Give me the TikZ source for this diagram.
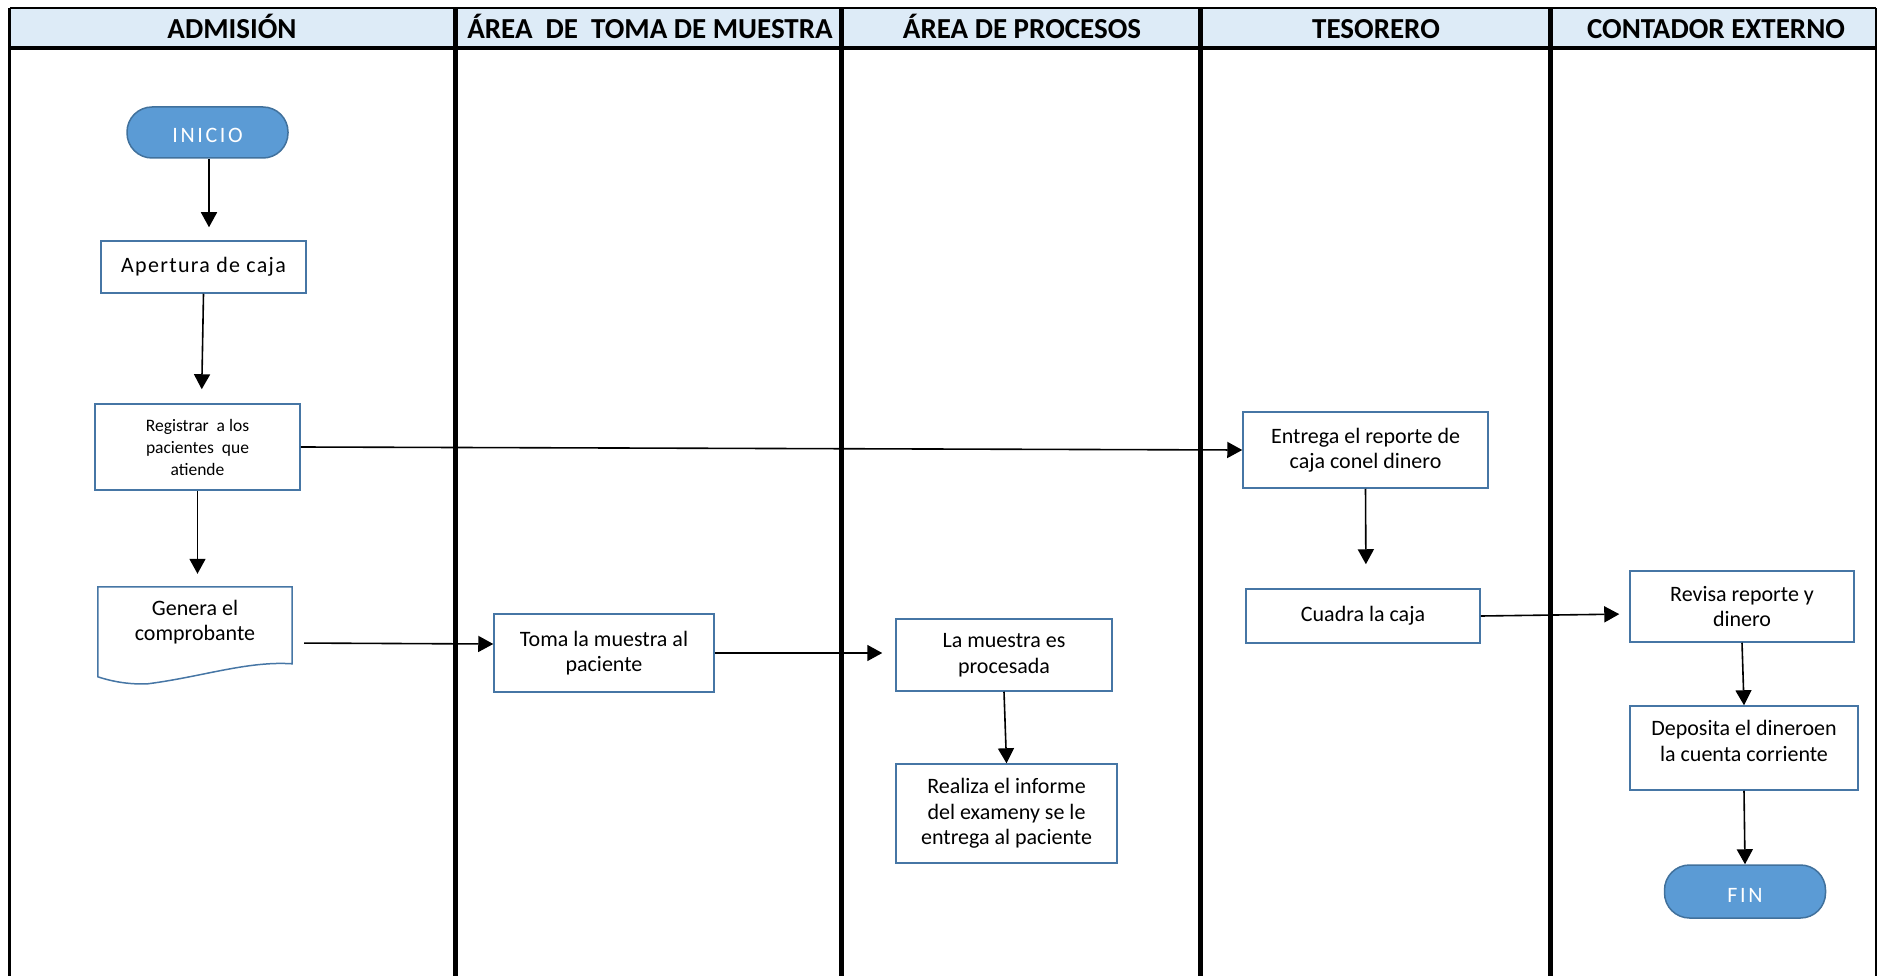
\documentclass[tikz,border=0pt]{standalone}
\usepackage{fontspec}
\setmainfont{Carlito}
\usetikzlibrary{arrows.meta,calc}
\definecolor{headfill}{RGB}{221,235,247}
\definecolor{boxline}{RGB}{70,118,165}
\definecolor{pillfill}{RGB}{91,155,213}
\definecolor{pillline}{RGB}{65,113,156}
\begin{document}
\begin{tikzpicture}[x=1pt,y=-1pt,
  lanehead/.style={font=\fontsize{29}{32}\selectfont\bfseries, anchor=base},
  procbox/.style={draw=boxline, line width=1.5pt, fill=white, align=center,
    font=\fontsize{22}{25.5}\selectfont, inner sep=2pt},
  smallbox/.style={procbox, font=\fontsize{17.5}{22}\selectfont},
  pill/.style={draw=pillline, line width=1.5pt, fill=pillfill, rounded corners=25pt,
    text=white, font=\fontsize{22}{24}\selectfont\addfontfeature{LetterSpace=12},
    text height=20pt, text depth=0pt},
  flow/.style={draw=black, line width=1.6pt, -{Triangle[width=16pt,length=15pt]}}]
\useasboundingbox (0,0) rectangle (1881,976);

% swimlane header band and lane borders
\fill[headfill] (9.6,8) rectangle (1876,48);
\draw[line width=2.5pt] (9.6,8) -- (1876,8);
\draw[line width=3.5pt] (9.6,48) -- (1876,48);
\draw[line width=2.5pt] (9.6,8) -- (9.6,976);
\draw[line width=2.5pt] (1876,8) -- (1876,976);
\foreach \lx in {455,841,1200,1550}
  \draw[line width=5pt] (\lx,8) -- (\lx,976);

\node[lanehead] (h1) at (232,38.5) {ADMISIÓN};
\node[lanehead] (h2) at (650,38.5) {ÁREA\ \ DE\ \ TOMA DE MUESTRA};
\node[lanehead] (h3) at (1022,38.5) {ÁREA DE PROCESOS};
\node[lanehead] (h4) at (1376,38.5) {TESORERO};
\node[lanehead] (h5) at (1716,38.5) {CONTADOR EXTERNO};

% admision
\node[pill, minimum width=161pt, minimum height=51pt] (ini) at (207.5,132.5) {INICIO};
\node[procbox, minimum width=205pt, minimum height=52pt] (ape) at (203.5,267)
  {\addfontfeature{LetterSpace=6}Apertura de caja};
\node[smallbox, minimum width=205pt, minimum height=86pt] (reg) at (197.5,447)
  {Registrar\ \ a los\\pacientes\ \ que\\atiende};
\node[minimum width=194pt, minimum height=97pt, inner sep=0pt] (gen) at (195,635.5) {};
\draw[boxline, line width=1.5pt, fill=white]
  (gen.north west) -- (gen.north east) -- ($(gen.north east)+(0,77)$)
  .. controls ($(gen.north east)+(-45,74)$) and ($(gen.north east)+(-90,90)$)
  .. ($(gen.north west)+(50,97)$)
  .. controls ($(gen.north west)+(30,98)$) and ($(gen.north west)+(12,94)$)
  .. ($(gen.north west)+(0,90)$) -- cycle;
\node[align=center, font=\fontsize{22}{25.5}\selectfont] (gent) at (195,622)
  {Genera el\\comprobante};

% toma de muestra
\node[procbox, minimum width=220pt, minimum height=78pt] (tom) at (604,653)
  {Toma la muestra al\\paciente};

% procesos
\node[procbox, minimum width=216pt, minimum height=72pt] (pro) at (1004,655)
  {La muestra es\\procesada};
\node[procbox, minimum width=221pt, minimum height=99pt] (rea) at (1006.5,813.5)
  {Realiza el informe\\del exameny se le\\entrega al paciente};

% tesorero
\node[procbox, minimum width=245pt, minimum height=76pt] (ent) at (1365.5,450)
  {Entrega el reporte de\\caja conel dinero};
\node[procbox, minimum width=234pt, minimum height=54pt] (cua) at (1363,616)
  {Cuadra la caja};

% contador externo
\node[procbox, minimum width=224pt, minimum height=71pt] (rev) at (1742,606.5)
  {Revisa reporte y\\dinero};
\node[procbox, minimum width=228pt, minimum height=84pt, text depth=14pt] (dep) at (1744,748)
  {Deposita el dineroen\\la cuenta corriente};
\node[pill, minimum width=161pt, minimum height=53pt, text height=21pt] (fin) at (1745,891.5) {FIN};

% connectors
\draw[flow, shorten >=13pt] ($(ini.south)+(1.5,0)$) -- ($(ape.north)+(5.5,0)$);
\draw[flow, shorten >=14pt] (ape.south) -- ($(reg.north)+(4,0)$);
\draw[flow, shorten >=13pt] (reg.south) -- (reg.south |- gen.north);
\draw[flow] (reg.east) -- (ent.west);
\draw[flow, shorten <=12pt] ($(gen.east)+(0,7.5)$) -- ($(tom.west)+(0,-9)$);
\draw[flow, shorten >=13pt] (tom.east) -- ($(pro.west)+(0,-2)$);
\draw[flow] (pro.south) -- (rea.north);
\draw[flow, shorten >=24pt] (ent.south) -- ($(cua.north)+(3,0)$);
\draw[flow, shorten >=10pt] (cua.east) -- ($(rev.west)+(0,7.5)$);
\draw[flow] (rev.south) -- (dep.north);
\draw[flow] (dep.south) -- (fin.north);
\end{tikzpicture}
\end{document}
